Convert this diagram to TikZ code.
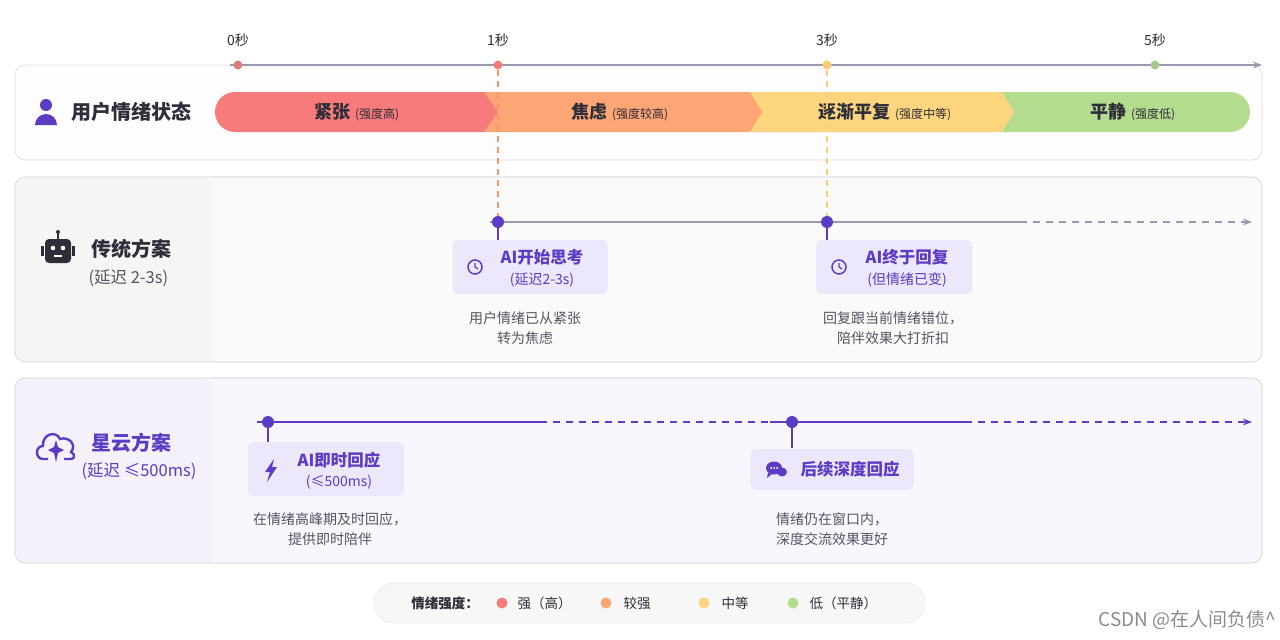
\documentclass[tikz,border=0pt]{standalone}
\usepackage{fontspec}
\setmainfont{Noto Sans CJK SC}
\usetikzlibrary{arrows.meta}
\definecolor{pur}{HTML}{5B3CC4}
\definecolor{dark}{HTML}{2E2E38}
\definecolor{gry}{HTML}{555560}
\definecolor{axis}{HTML}{9A98B0}
\definecolor{cR}{HTML}{F77B7B}
\definecolor{cO}{HTML}{FCA575}
\definecolor{cY}{HTML}{FCD57E}
\definecolor{cG}{HTML}{B4DC8E}
\definecolor{boxbg}{HTML}{ECE7FB}
\tikzset{
 panel/.style={rounded corners=10pt,draw=black!12,line width=0.8pt},
 title/.style={font=\fontsize{20}{24}\selectfont\bfseries,text=dark},
 sub/.style={font=\fontsize{16.5}{20}\selectfont,text=gry},
 tick/.style={font=\fontsize{14}{16}\selectfont,text=dark},
 seg/.style={font=\fontsize{18}{21}\selectfont\bfseries,text=dark},
 box/.style={fill=boxbg,rounded corners=5pt,draw=none},
 btitle/.style={font=\fontsize{16.5}{19}\selectfont\bfseries,text=pur},
 bsub/.style={font=\fontsize{14}{16}\selectfont,text=pur},
 note/.style={font=\fontsize{14}{20}\selectfont,text=gry,align=center},
 dot/.style={circle,inner sep=0pt,minimum size=12pt,fill=pur},
 sdot/.style={circle,inner sep=0pt,minimum size=9pt},
 leg/.style={font=\fontsize{13.5}{16}\selectfont,text=dark},
}
\begin{document}
\begin{tikzpicture}[x=1pt,y=-1pt]
\useasboundingbox (0,0) rectangle (1280,640);
\fill[white] (0,0) rectangle (1280,640);
% panels
\draw[panel,fill=white!97!blue!20] (15,65) rectangle (1262,160);
\draw[panel,fill=black!2] (15,177) rectangle (1262,362);
\fill[black!4,rounded corners=9pt] (16,178) -- (212,178) [sharp corners] -- (212,361) [rounded corners=9pt] -- (16,361) -- cycle;
\draw[panel,fill=pur!4] (15,378) rectangle (1262,563);
\fill[pur!7,rounded corners=9pt] (16,379) -- (212,379) [sharp corners] -- (212,562) [rounded corners=9pt] -- (16,562) -- cycle;
\draw[panel,fill=none] (15,378) rectangle (1262,563);
\draw[panel,fill=none] (15,177) rectangle (1262,362);
% axis
\coordinate (a0) at (230,65); \coordinate (a1) at (1262,65);
\draw[axis,line width=1.5pt,-{Stealth[length=9pt]}] (a0) -- (a1);
\node[sdot,fill=cR!80!gray] (t0) at (238,65) {};
\node[sdot,fill=cR!90!orange] (t1) at (498,65) {};
\node[sdot,fill=cY!90!orange] (t3) at (827,65) {};
\node[sdot,fill=cG!80!gray] (t5) at (1155,65) {};
\node[tick] at (238,40) {0秒};
\node[tick] at (498,40) {1秒};
\node[tick] at (827,40) {3秒};
\node[tick] at (1155,40) {5秒};
% emotion bar
\fill[cG] (998,92) -- (1230,92) arc[start angle=-90,end angle=90,radius=20] -- (998,132) -- (1010,112) -- cycle;
\fill[cY] (748,92) -- (1002,92) -- (1014,112) -- (1002,132) -- (748,132) -- (760,112) -- cycle;
\fill[cO] (484,92) -- (750,92) -- (762,112) -- (750,132) -- (484,132) -- (496,112) -- cycle;
\fill[cR] (235,92) -- (484,92) -- (498,112) -- (484,132) -- (235,132) arc[start angle=90,end angle=270,radius=20];
\node[seg] at (357,112) {紧张 {\fontsize{12}{14}\selectfont\mdseries(强度高)}};
\node[seg] at (620,112) {焦虑 {\fontsize{12}{14}\selectfont\mdseries(强度较高)}};
\node[seg] at (885,112) {逐渐平复 {\fontsize{12}{14}\selectfont\mdseries(强度中等)}};
\node[seg] at (1133,112) {平静 {\fontsize{12}{14}\selectfont\mdseries(强度低)}};
% panel 1 title
\fill[pur] (46,105) circle (6);
\fill[pur] (35,125) arc[start angle=180,end angle=360,radius=11] -- cycle;
\node[title,anchor=west] at (68,112) {用户情绪状态};
% panel 2 title
\fill[dark,rounded corners=4pt] (45,239) rectangle (71,263);
\draw[dark,line width=1.5pt] (58,239) -- (58,233); \fill[dark] (58,232) circle (2);
\fill[dark] (41,246) rectangle (44,256); \fill[dark] (72,246) rectangle (75,256);
\fill[white] (53,248) circle (2.3); \fill[white] (63,248) circle (2.3);
\fill[white] (54,255) rectangle (62,257);
\node[title,anchor=west] at (88,249) {传统方案};
\node[sub,anchor=west] at (85,278) {(延迟 2-3s)};
% panel 2 line
\coordinate (L2s) at (490,222); \coordinate (L2m) at (1020,222); \coordinate (L2e) at (1252,222);
\draw[axis,line width=1.6pt] (L2s) -- (L2m);
\draw[axis,line width=1.6pt,dash pattern=on 7pt off 6pt,-{Stealth[length=9pt]}] (L2m) -- (L2e);
\draw[cO!90!red,line width=1.3pt,dash pattern=on 6pt off 5pt] (t1) -- (498,222);
\draw[cY!90!orange,line width=1.3pt,dash pattern=on 6pt off 5pt] (t3) -- (827,222);
\node[dot] (d1) at (498,222) {};
\node[dot] (d2) at (827,222) {};
\node[box,minimum width=155pt,minimum height=54pt] (b1) at (530,267) {};
\node[box,minimum width=156pt,minimum height=54pt] (b2) at (894,267) {};
\draw[pur,line width=1.3pt] (d1) -- (b1.north -| d1);
\draw[pur,line width=1.3pt] (d2) -- (b2.north -| d2);
\draw[pur,line width=1.5pt] (475,267) circle (7); \draw[pur,line width=1.3pt] (475,263) -- (475,267) -- (478,269);
\draw[pur,line width=1.5pt] (839,267) circle (7); \draw[pur,line width=1.3pt] (839,263) -- (839,267) -- (842,269);
\node[btitle] at (542,257) {AI开始思考};
\node[bsub] at (542,280) {(延迟2-3s)};
\node[btitle] at (907,257) {AI终于回复};
\node[bsub] at (907,280) {(但情绪已变)};
\node[note] at (525,328) {用户情绪已从紧张\\转为焦虑};
\node[note] at (893,328) {回复跟当前情绪错位，\\陪伴效果大打折扣};
% panel 3 title
\draw[pur,line width=2.4pt] (48,459) -- (43,459) .. controls (35,459) and (35,446) .. (43,446) .. controls (42,434) and (56,430) .. (60,439) .. controls (69,436) and (77,445) .. (71,452) .. controls (77,456) and (73,460) .. (69,459) -- (64,459);
\fill[pur] (56,440) -- (58,447) -- (64,450) -- (58,453) -- (56,462) -- (54,453) -- (48,450) -- (54,447) -- cycle;
\node[title,anchor=west,text=pur] at (88,443) {星云方案};
\node[sub,anchor=west,text=pur] at (78,471) {(延迟 ≤500ms)};
% panel 3 line
\coordinate (L3s) at (257,422); \coordinate (L3a) at (540,422); \coordinate (L3b) at (770,422);
\coordinate (L3c) at (965,422); \coordinate (L3e) at (1252,422);
\draw[pur,line width=1.6pt] (L3s) -- (L3a);
\draw[pur,line width=1.6pt,dash pattern=on 7pt off 6pt] (L3a) -- (L3b);
\draw[pur,line width=1.6pt] (L3b) -- (L3c);
\draw[pur,line width=1.6pt,dash pattern=on 7pt off 6pt,-{Stealth[length=9pt]}] (L3c) -- (L3e);
\node[dot] (d3) at (268,422) {};
\node[dot] (d4) at (792,422) {};
\node[box,minimum width=156pt,minimum height=54pt] (b3) at (326,469) {};
\node[box,minimum width=163pt,minimum height=41pt] (b4) at (832,469) {};
\draw[pur,line width=1.3pt] (d3) -- (b3.north -| d3);
\draw[pur,line width=1.3pt] (d4) -- (b4.north -| d4);
\fill[pur] (274,459) -- (265,472) -- (270,472) -- (267,482) -- (277,467) -- (272,467) -- cycle;
\node[btitle] at (339,460) {AI即时回应};
\node[bsub] at (339,482) {(≤500ms)};
\fill[pur] (774,468) ellipse (8 and 6.5); \fill[pur] (768,473) -- (767,478) -- (772,474) -- cycle;
\foreach \dx in {-3,0,3} \fill[white] (774+\dx,468) circle (1);
\fill[pur] (782,472) ellipse (5 and 4.5);
\node[btitle] at (850,469) {后续深度回应};
\node[note] at (330,529) {在情绪高峰期及时回应，\\提供即时陪伴};
\node[note] at (832,529) {情绪仍在窗口内，\\深度交流效果更好};
% legend
\draw[rounded corners=20pt,fill=black!3,draw=black!10] (374,583) rectangle (925,623);
\node[leg,font=\fontsize{13.5}{16}\selectfont\bfseries] at (445,603) {情绪强度：};
\node[sdot,minimum size=11pt,fill=cR] (l1) at (502,603) {};
\node[leg,anchor=west] at (514,603) {强（高）};
\node[sdot,minimum size=11pt,fill=cO] (l2) at (606,603) {};
\node[leg,anchor=west] at (620,603) {较强};
\node[sdot,minimum size=11pt,fill=cY] (l3) at (704,603) {};
\node[leg,anchor=west] at (718,603) {中等};
\node[sdot,minimum size=11pt,fill=cG] (l4) at (793,603) {};
\node[leg,anchor=west] at (806,603) {低（平静）};
\node[font=\fontsize{19}{22}\selectfont,text=black!45,anchor=east] at (1280,620) {CSDN @在人间负债\^{}};
\end{tikzpicture}
\end{document}
